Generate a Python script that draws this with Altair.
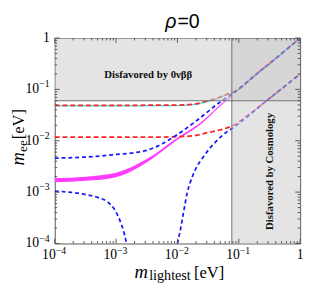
import altair as alt
import pandas as pd

# ---- data (eV) ----
no_max_x = [1e-4, 3e-4, 1e-3, 3e-3, 1e-2, 2e-2, 5e-2, 0.077, 0.2, 0.5, 1.0]
no_max_y = [4.6e-3, 4.8e-3, 5.4e-3, 6.4e-3, 1.32e-2, 2.4e-2, 5.7e-2, 8.0e-2, 0.205, 0.5, 1.0]

no_min1_x = [1e-4, 3e-4, 5e-4, 7.2e-4, 9.3e-4, 1.17e-3, 1.38e-3, 1.48e-3]
no_min1_y = [1.05e-3, 9.1e-4, 7.9e-4, 6.5e-4, 4.7e-4, 2.7e-4, 1.45e-4, 1.0e-4]

no_min2_x = [1.0e-2, 1.15e-2, 1.26e-2, 1.45e-2, 1.62e-2, 1.95e-2, 2.75e-2, 3.98e-2, 6.2e-2, 7.8e-2, 0.278, 1.0]
no_min2_y = [1.0e-4, 2.2e-4, 4.1e-4, 1.0e-3, 1.55e-3, 2.7e-3, 5.2e-3, 8.9e-3, 1.45e-2, 1.74e-2, 5.9e-2, 0.2]

io_min_x = [1e-4, 1e-3, 3e-3, 1e-2, 2e-2, 3.1e-2, 5.7e-2, 7.6e-2, 0.15, 0.3, 1.0]
io_min_y = [0.0117, 0.0117, 0.0117, 0.0120, 0.0127, 0.0144, 0.0170, 0.0192, 0.033, 0.063, 0.2]

io_max_x = [1e-4, 1e-3, 1e-2, 2e-2, 2.75e-2, 4.5e-2, 6.2e-2, 8.3e-2, 0.2, 0.5, 1.0]
io_max_y = [0.049, 0.049, 0.0495, 0.052, 0.0575, 0.068, 0.079, 0.089, 0.205, 0.5, 1.0]

cyan_x = [1e-4, 1e-3, 1e-2, 2e-2, 2.75e-2, 4.5e-2, 6.2e-2, 8.3e-2, 0.2, 0.5, 1.0]
cyan_y = [0.0478, 0.0478, 0.0485, 0.051, 0.056, 0.067, 0.078, 0.088, 0.2, 0.49, 1.0]

band_x = [1e-4, 3.2e-4, 1e-3, 3.2e-3, 1e-2, 2.5e-2, 5e-2, 7.6e-2]
band_lo = [1.56e-3, 1.66e-3, 1.95e-3, 3.8e-3, 1.04e-2, 2.17e-2, 4.75e-2, 7.3e-2]
band_hi = [1.88e-3, 2.0e-3, 2.38e-3, 4.45e-3, 1.15e-2, 2.36e-2, 5.05e-2, 7.7e-2]

bb_limit = 0.06      # 0vbb bound on m_ee
cosmo_limit = 0.077  # cosmology bound on m_lightest
axis_min, axis_max = 1e-4, 1.0

major_vals = [1e-4, 1e-3, 1e-2, 1e-1]
major_exp = ["\u22124", "\u22123", "\u22122", "\u22121"]
minor_vals = [k * 10.0 ** e for e in (-4, -3, -2, -1) for k in range(2, 10)]

W, H = 252, 211
SERIF = "Liberation Serif"

xs = alt.Scale(type="log", domain=[axis_min, axis_max], nice=False)
ys = alt.Scale(type="log", domain=[axis_min, axis_max], nice=False)
X = alt.X("x:Q", scale=xs, axis=None)
Y = alt.Y("y:Q", scale=ys, axis=None)


def line(xv, yv, color, dash=None, width=1.8):
    kw = dict(color=color, strokeWidth=width, interpolate="monotone", clip=True)
    if dash:
        kw["strokeDash"] = dash
    return alt.Chart(pd.DataFrame({"x": xv, "y": yv})).mark_line(**kw).encode(x=X, y=Y)


band = alt.Chart(pd.DataFrame({"x": band_x, "lo": band_lo, "hi": band_hi})).mark_area(
    color="#ff3cff", interpolate="monotone", clip=True
).encode(x=X, y=alt.Y("lo:Q", scale=ys, axis=None), y2="hi:Q")

cyan = line(cyan_x, cyan_y, "#3fe3e8", None, 1.3)
red_hi = line(io_max_x, io_max_y, "#ff2222", [5, 3], 1.8)
red_lo = line(io_min_x, io_min_y, "#ff2222", [5, 3], 1.8)
blue_hi = line(no_max_x, no_max_y, "#1a1aff", [4, 3], 1.8)
blue_lo1 = line(no_min1_x, no_min1_y, "#1a1aff", [4, 3], 1.8)
blue_lo2 = line(no_min2_x, no_min2_y, "#1a1aff", [4, 3], 1.8)

regions = pd.DataFrame({
    "x1": [axis_min, cosmo_limit, cosmo_limit],
    "x2": [cosmo_limit, axis_max, axis_max],
    "y1": [bb_limit, axis_min, bb_limit],
    "y2": [axis_max, bb_limit, axis_max],
    "fill": ["#cdcdcd", "#cdcdcd", "#b4b4b4"],
})
shade = alt.Chart(regions).mark_rect(opacity=0.55).encode(
    x=alt.X("x1:Q", scale=xs, axis=None), x2="x2:Q",
    y=alt.Y("y1:Q", scale=ys, axis=None), y2="y2:Q",
    color=alt.Color("fill:N", scale=None),
)

hline = alt.Chart(pd.DataFrame({"y": [bb_limit]})).mark_rule(color="#707070", strokeWidth=1).encode(y=Y)
vline = alt.Chart(pd.DataFrame({"x": [cosmo_limit]})).mark_rule(color="#707070", strokeWidth=1).encode(x=X)

txt_bb = alt.Chart(pd.DataFrame({"t": ["Disfavored by 0\u03bd\u03b2\u03b2"]})).mark_text(
    font=SERIF, fontSize=11, fontWeight="bold", align="center", baseline="middle", color="#111"
).encode(text="t:N", x=alt.value(96), y=alt.value(38))
txt_cosmo = alt.Chart(pd.DataFrame({"t": ["Disfavored by Cosmology"]})).mark_text(
    font=SERIF, fontSize=11, fontWeight="bold", align="center", baseline="middle", angle=270, color="#111"
).encode(text="t:N", x=alt.value(221), y=alt.value(137))

# ---- inward ticks on all four sides ----
tk_major = pd.DataFrame({"v": major_vals + [axis_max]})
tk_minor = pd.DataFrame({"v": minor_vals})
TX = alt.X("v:Q", scale=xs, axis=None)
TY = alt.Y("v:Q", scale=ys, axis=None)
tick_layers = []
for df, ln in ((tk_major, 5), (tk_minor, 2.5)):
    base = alt.Chart(df).mark_rule(color="#555", strokeWidth=1)
    tick_layers += [
        base.encode(x=TX, y=alt.value(H), y2=alt.value(H - ln)),
        base.encode(x=TX, y=alt.value(0), y2=alt.value(ln)),
        base.encode(y=TY, x=alt.value(0), x2=alt.value(ln)),
        base.encode(y=TY, x=alt.value(W), x2=alt.value(W - ln)),
    ]

lab = pd.DataFrame({"v": major_vals, "b": ["10"] * len(major_vals), "e": major_exp})
xl_base = alt.Chart(lab).mark_text(font=SERIF, fontSize=14, align="right", baseline="alphabetic", dx=1).encode(
    x=TX, y=alt.value(H + 16), text="b:N")
xl_exp = alt.Chart(lab).mark_text(font=SERIF, fontSize=10, align="left", baseline="alphabetic", dx=1).encode(
    x=TX, y=alt.value(H + 11), text="e:N")
yl_base = alt.Chart(lab).mark_text(font=SERIF, fontSize=14, align="right", baseline="middle").encode(
    y=TY, x=alt.value(-16), text="b:N")
yl_exp = alt.Chart(lab).mark_text(font=SERIF, fontSize=10, align="left", baseline="middle", dy=-5).encode(
    y=TY, x=alt.value(-16), text="e:N")
one = pd.DataFrame({"v": [axis_max], "b": ["1"]})
xl_one = alt.Chart(one).mark_text(font=SERIF, fontSize=14, align="center", baseline="alphabetic").encode(
    x=TX, y=alt.value(H + 16), text="b:N")
yl_one = alt.Chart(one).mark_text(font=SERIF, fontSize=14, align="right", baseline="middle").encode(
    y=TY, x=alt.value(-5), text="b:N")


def label(t, x, y, size, style="normal", align="left", angle=0, font=SERIF):
    kw = dict(font=font, fontSize=size, fontStyle=style, align=align, baseline="alphabetic", color="black")
    if angle:
        kw["angle"] = angle
    return alt.Chart(pd.DataFrame({"t": [t]})).mark_text(**kw).encode(
        text="t:N", x=alt.value(x), y=alt.value(y))


titles = [
    label("m", 82, 246, 19, "italic"),
    label("lightest", 97, 249, 14.5),
    label("[eV]", 143, 246, 17),
    label("m", -32, 131, 19, "italic", angle=270),
    label("ee", -29, 117, 13.5, angle=270),
    label("[eV]", -32, 104, 17, angle=270),
    label("\u03c1", 125, -10, 20, "italic", align="right", font="Liberation Sans"),
    label("=0", 126, -10, 20, font="Liberation Sans"),
]

chart = alt.layer(
    band, cyan, red_hi, red_lo, blue_hi, blue_lo1, blue_lo2,
    shade, hline, vline, txt_bb, txt_cosmo,
    *tick_layers, xl_base, xl_exp, yl_base, yl_exp, xl_one, yl_one, *titles,
).properties(
    width=W, height=H, autosize="none",
    padding={"left": 48, "top": 27, "right": 5, "bottom": 46},
).configure_view(stroke="#555555", strokeWidth=1)

chart.save("out.html", embed_options={"renderer": "svg", "actions": False})
